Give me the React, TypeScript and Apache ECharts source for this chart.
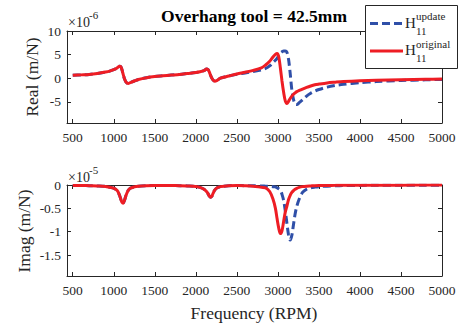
import React, { useEffect, useRef } from "react";
import * as echarts from "echarts";

// Frequency grid (RPM)
const freq = [
  500, 600, 700, 800, 900,
  950, 1000, 1030, 1050, 1070,
  1085, 1100, 1115, 1130, 1150,
  1175, 1200, 1250, 1300, 1400,
  1500, 1600, 1700, 1800, 1900,
  2000, 2050, 2100, 2130, 2150,
  2165, 2180, 2195, 2210, 2230,
  2260, 2300, 2400, 2500, 2600,
  2700, 2800, 2850, 2900, 2940,
  2970, 2990, 3010, 3030, 3050,
  3070, 3090, 3110, 3130, 3150,
  3170, 3190, 3210, 3230, 3260,
  3300, 3350, 3400, 3450, 3500,
  3600, 3700, 3800, 4000, 4200,
  4500, 4800, 5000,
];

// Real part (x1e-6 m/N)
const realOriginal = [
  0.6, 0.7, 0.8, 1.0, 1.3,
  1.5, 1.8, 2.05, 2.3, 2.55,
  2.45, 1.8, 0.8, -0.1, -0.85,
  -1.13, -0.95, -0.6, -0.28, 0.1,
  0.35, 0.5, 0.65, 0.8, 1.0,
  1.2, 1.35, 1.6, 1.95, 1.8,
  1.3, 0.6, 0.0, -0.4, -0.64,
  -0.45, 0.0, 0.45, 0.9, 1.25,
  1.65, 2.2, 2.8, 3.6, 4.5,
  5.05, 5.25, 4.6, 2.2, -0.6,
  -3.0, -4.8, -5.35, -4.9, -4.3,
  -3.8, -3.4, -3.1, -2.85, -2.6,
  -2.3, -1.95, -1.65, -1.4, -1.25,
  -1.0, -0.85, -0.72, -0.55, -0.45,
  -0.33, -0.24, -0.18,
];
const realUpdate = [
  0.6, 0.7, 0.8, 1.0, 1.3,
  1.5, 1.8, 2.05, 2.3, 2.55,
  2.45, 1.8, 0.8, -0.1, -0.85,
  -1.13, -0.95, -0.6, -0.28, 0.1,
  0.35, 0.5, 0.65, 0.8, 1.0,
  1.2, 1.35, 1.6, 1.95, 1.8,
  1.3, 0.6, 0.0, -0.4, -0.64,
  -0.45, 0.0, 0.45, 0.85, 1.1,
  1.4, 1.75, 2.05, 2.6, 3.3,
  3.8, 4.2, 4.8, 5.35, 5.6,
  5.75, 5.75, 5.5, 4.0, 1.0,
  -2.5, -4.5, -5.5, -5.6, -5.2,
  -4.6, -3.8, -3.2, -2.75, -2.4,
  -1.9, -1.55, -1.3, -0.95, -0.72,
  -0.5, -0.35, -0.26,
];

// Imaginary part (x1e-5 m/N)
const imagOriginal = [
  -0.01, -0.01, -0.015, -0.02, -0.03,
  -0.05, -0.07, -0.1, -0.14, -0.22,
  -0.3, -0.37, -0.39, -0.33, -0.22,
  -0.12, -0.07, -0.04, -0.025, -0.015,
  -0.01, -0.01, -0.012, -0.015, -0.02,
  -0.03, -0.05, -0.09, -0.14, -0.19,
  -0.24, -0.26, -0.24, -0.18, -0.11,
  -0.06, -0.035, -0.015, -0.01, -0.015,
  -0.025, -0.05, -0.06, -0.14, -0.3,
  -0.5, -0.72, -0.92, -1.04, -0.98,
  -0.78, -0.58, -0.45, -0.31, -0.22,
  -0.16, -0.12, -0.09, -0.07, -0.05,
  -0.035, -0.025, -0.02, -0.015, -0.012,
  -0.01, -0.008, -0.006, -0.005, -0.004,
  -0.003, -0.002, -0.002,
];
const imagUpdate = [
  -0.01, -0.01, -0.015, -0.02, -0.03,
  -0.05, -0.07, -0.1, -0.14, -0.22,
  -0.3, -0.37, -0.39, -0.33, -0.22,
  -0.12, -0.07, -0.04, -0.025, -0.015,
  -0.01, -0.01, -0.012, -0.015, -0.02,
  -0.03, -0.05, -0.09, -0.14, -0.19,
  -0.24, -0.26, -0.24, -0.18, -0.11,
  -0.06, -0.035, -0.015, -0.01, -0.015,
  -0.018, -0.02, -0.025, -0.03, -0.035,
  -0.04, -0.06, -0.08, -0.11, -0.2,
  -0.33, -0.55, -0.82, -1.07, -1.18,
  -1.08, -0.85, -0.62, -0.46, -0.3,
  -0.16, -0.09, -0.06, -0.045, -0.035,
  -0.025, -0.018, -0.013, -0.009, -0.007,
  -0.005, -0.004, -0.003,
];

const xTicks = [500, 1000, 1500, 2000, 2500, 3000, 3500, 4000, 4500, 5000];
const realTicks = [-5, 0, 5, 10];
const imagTicks = [-1.5, -1, -0.5, 0];

const titleText = "Overhang tool = 42.5mm";
const realLabel = "Real (m/N)";
const imagLabel = "Imag (m/N)";
const xLabel = "Frequency (RPM)";
const legendBase = "H";
const legendSub = "11";
const legendUpdate = "update";
const legendOriginal = "original";

const BLUE = "#2f4fa8";
const RED = "#ee1d24";
const AX = "#262626";
const SERIF = "Liberation Serif";

function pairs(vals: number[]) {
  return freq.map((f, i) => [f, vals[i]]);
}

function txt(text: string, x: number, y: number, size: number, opts: any = {}) {
  const align = opts.align || "left";
  const valign = opts.valign || "middle";
  return {
    type: "text",
    x,
    y,
    rotation: opts.rotation || 0,
    z: 100,
    style: {
      text,
      fontSize: size,
      fontFamily: SERIF,
      fontWeight: opts.bold ? "bold" : "normal",
      fill: opts.fill || AX,
      align,
      verticalAlign: valign,
      textAlign: align,
      textVerticalAlign: valign,
    },
  };
}

export default function App() {
  const ref = useRef<HTMLDivElement>(null);
  useEffect(() => {
    if (!ref.current) return;
    const chart = echarts.init(ref.current, null, { renderer: "svg" });

    const axisLine = { show: true, onZero: false, lineStyle: { color: AX, width: 1 } };
    const tickStyle = (vals: number[]) => ({
      show: true,
      inside: true,
      length: 4,
      customValues: vals,
      lineStyle: { color: AX, width: 1 },
    });
    const labelStyle = (vals: number[], margin: number) => ({
      show: true,
      customValues: vals,
      fontFamily: SERIF,
      fontSize: 13.5,
      color: AX,
      margin,
      formatter: (v: number) => String(v),
    });

    const xAx = (grid: number, pos: string, labels: boolean) => ({
      type: "value",
      gridIndex: grid,
      position: pos,
      min: 430,
      max: 5000,
      axisLine,
      axisTick: tickStyle(xTicks),
      axisLabel: labels ? labelStyle(xTicks, 7) : { show: false },
      splitLine: { show: false },
    });
    const yAx = (grid: number, pos: string, labels: boolean, min: number, max: number, ticks: number[]) => ({
      type: "value",
      gridIndex: grid,
      position: pos,
      min,
      max,
      axisLine,
      axisTick: tickStyle(ticks),
      axisLabel: labels ? labelStyle(ticks, 6) : { show: false },
      splitLine: { show: false },
    });

    const line = (xi: number, yi: number, vals: number[], color: string, dashed: boolean, z: number) => ({
      type: "line",
      xAxisIndex: xi,
      yAxisIndex: yi,
      data: pairs(vals),
      showSymbol: false,
      symbol: "none",
      smooth: 0.3,
      z,
      lineStyle: { color, width: 3, type: dashed ? [8, 4] : "solid" },
    });

    const option: any = {
      animation: false,
      backgroundColor: "#ffffff",
      textStyle: { fontFamily: SERIF },
      grid: [
        { left: 67, top: 31, width: 375, height: 92 },
        { left: 67, top: 185, width: 375, height: 91 },
      ],
      xAxis: [xAx(0, "bottom", true), xAx(0, "top", false), xAx(1, "bottom", true), xAx(1, "top", false)],
      yAxis: [
        yAx(0, "left", true, -9.5, 10, realTicks),
        yAx(0, "right", false, -9.5, 10, realTicks),
        yAx(1, "left", true, -1.95, 0, imagTicks),
        yAx(1, "right", false, -1.95, 0, imagTicks),
      ],
      series: [
        line(0, 0, realUpdate, BLUE, true, 2),
        line(0, 0, realOriginal, RED, false, 3),
        line(2, 2, imagUpdate, BLUE, true, 2),
        line(2, 2, imagOriginal, RED, false, 3),
      ],
      graphic: {
        elements: [
          txt(titleText, 254, 16, 17.5, { align: "center", bold: true, fill: "#000" }),
          txt(realLabel, 32, 77, 17.5, { align: "center", rotation: Math.PI / 2 }),
          txt(imagLabel, 24, 231, 17.5, { align: "center", rotation: Math.PI / 2 }),
          txt(xLabel, 254, 313, 17.5, { align: "center" }),
          txt("\u00d710", 68, 22.5, 14),
          txt("-6", 89, 15, 11),
          txt("\u00d710", 68, 177.5, 14),
          txt("-5", 89, 170, 11),
          {
            type: "rect",
            z: 99,
            shape: { x: 365.5, y: 5.5, width: 92, height: 63 },
            style: { fill: "#ffffff", stroke: AX, lineWidth: 1 },
          },
          {
            type: "line",
            z: 100,
            shape: { x1: 370, y1: 23.5, x2: 403, y2: 23.5 },
            style: { stroke: BLUE, lineWidth: 3, lineDash: [8, 4] },
          },
          {
            type: "line",
            z: 100,
            shape: { x1: 370, y1: 51, x2: 403, y2: 51 },
            style: { stroke: RED, lineWidth: 3 },
          },
          txt(legendBase, 405, 22.5, 15),
          txt(legendUpdate, 416, 15.5, 11),
          txt(legendSub, 416, 31, 11),
          txt(legendBase, 405, 49.5, 15),
          txt(legendOriginal, 416, 43.5, 11),
          txt(legendSub, 416, 58, 11),
        ],
      },
    };
    chart.setOption(option);
    return () => chart.dispose();
  }, []);
  return (
    <div
      ref={ref}
      style={{ position: "fixed", left: 0, top: 0, width: 460, height: 324, background: "#fff" }}
    />
  );
}
